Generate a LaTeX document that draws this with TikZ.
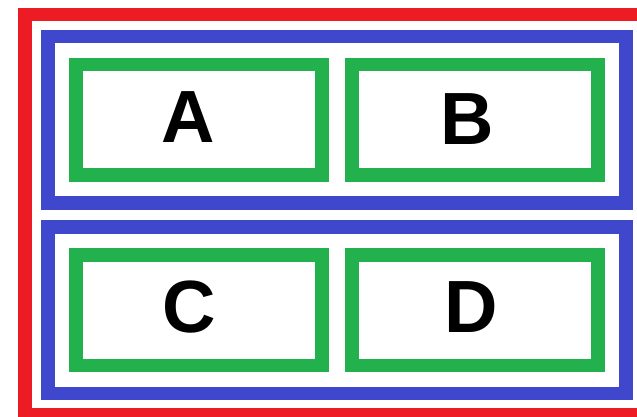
\documentclass[tikz,border=0pt]{standalone}
\usepackage{fontspec}
\setmainfont{Liberation Sans}
\usetikzlibrary{positioning,fit}
\definecolor{paintred}{HTML}{ED1C24}
\definecolor{paintblue}{HTML}{3F48CC}
\definecolor{paintgreen}{HTML}{22B14C}

\begin{document}
\begin{tikzpicture}[x=1pt, y=-1pt, node distance=30pt,
    cell/.style={draw=paintgreen, line width=13.5pt, outer sep=0pt,
                 minimum width=246pt, minimum height=110.5pt},
    group/.style={draw=paintblue, line width=13.5pt, inner sep=28pt, outer sep=0pt},
    letter/.style={inner sep=0pt, font=\fontsize{74}{74}\selectfont\bfseries}]
  \clip (0,0) rectangle (637,417);
  \draw[paintred, line width=13.5pt] (25,14.5) rectangle (650,415);
  \node[cell] (cellA) at (198.75,119.75) {};
  \node[cell, right=of cellA] (cellB) {};
  \node[cell, below=80pt of cellA] (cellC) {};
  \node[cell, right=of cellC] (cellD) {};
  \node[group, fit=(cellA) (cellB)] (top) {};
  \node[group, fit=(cellC) (cellD)] (bottom) {};
  \node[letter] (labelA) at (188,117) {A};
  \node[letter] (labelB) at (467,119) {B};
  \node[letter] (labelC) at (189,307) {C};
  \node[letter] (labelD) at (471,307) {D};
\end{tikzpicture}
\end{document}
